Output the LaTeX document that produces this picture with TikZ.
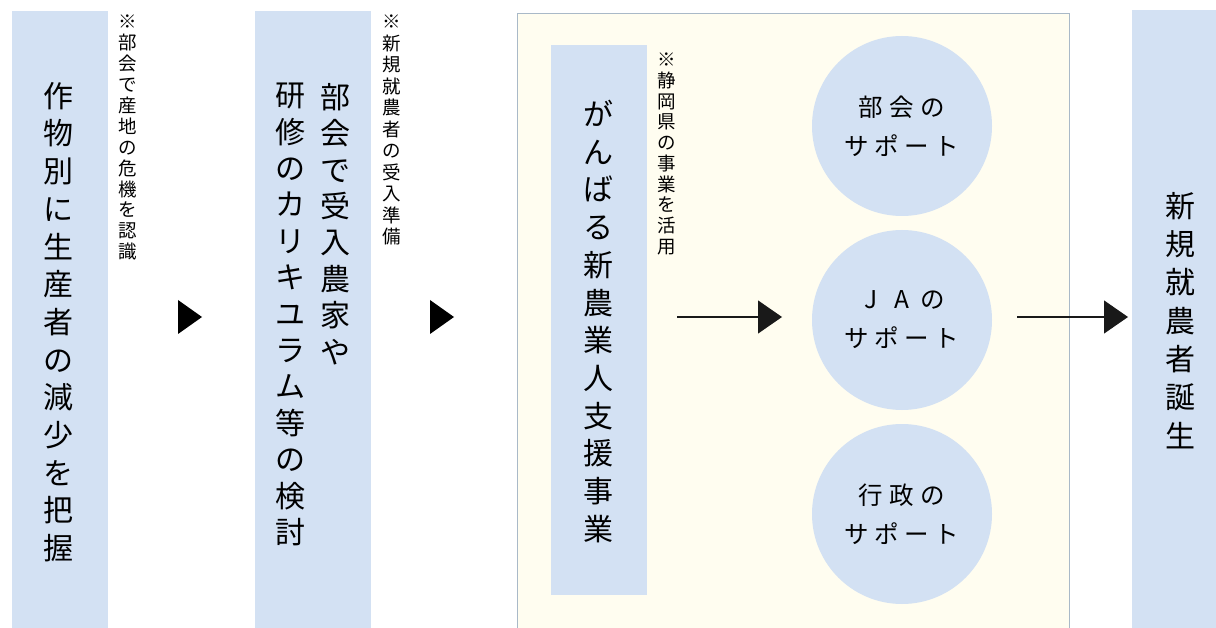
\documentclass[tikz,border=0pt]{standalone}
\usepackage{fontspec}
\setmainfont{Noto Sans CJK JP}
\usetikzlibrary{arrows.meta}
\definecolor{boxblue}{HTML}{D3E1F3}
\definecolor{cream}{HTML}{FFFDF0}
\definecolor{framec}{HTML}{A9B9C8}
\newcommand\ltrA[1]{\makebox[31pt]{#1}}
\newcommand\ltrB[1]{\makebox[30pt]{#1}}
\begin{document}
\begin{tikzpicture}[x=1pt,y=-1pt,
  bluebox/.style={fill=boxblue,draw=none,inner sep=0,anchor=north west},
  maintext/.style={font=\fontsize{30}{37.7}\selectfont,align=center,inner sep=0,anchor=north},
  notetext/.style={align=center,inner sep=0,anchor=north},
  support/.style={circle,fill=boxblue,draw=none,minimum size=180pt,inner sep=0,
    align=center,font=\fontsize{24.5}{39}\selectfont},
  conn/.style={line width=1.2pt,draw=black!90,-{Triangle[length=24pt,width=33pt]}},
  tri/.style={fill=black}
]
\useasboundingbox (0,0) rectangle (1216,628);
\fill[white] (0,0) rectangle (1216,628);

% boxes
\node[bluebox,minimum width=96pt,minimum height=617pt] (b1) at (12,11) {};
\node[bluebox,minimum width=116pt,minimum height=617pt] (b2) at (255,11) {};
\node[draw=framec,fill=cream,line width=0.8pt,inner sep=0,anchor=north west,
      minimum width=552pt,minimum height=625pt] (big) at (517,13) {};
\node[bluebox,minimum width=96pt,minimum height=550pt] (b3) at (551,45) {};
\node[bluebox,minimum width=90pt,minimum height=618pt] (b4) at (1132,10) {};

% box 1
\node[maintext] (t1) at (58,82) {作\\物\\別\\に\\生\\産\\者\\の\\減\\少\\を\\把\\握};
\node[notetext,font=\fontsize{18.5}{20.9}\selectfont] (n1) at (128,15) {※\\部\\会\\で\\産\\地\\の\\危\\機\\を\\認\\識};

% box 2
\node[maintext,font=\fontsize{30}{36.4}\selectfont] (t2a) at (335,83) {部\\会\\で\\受\\入\\農\\家\\や};
\node[maintext,font=\fontsize{30}{36.4}\selectfont] (t2b) at (290,83) {研\\修\\の\\カ\\リ\\キ\\ユ\\ラ\\ム\\等\\の\\検\\討};
\node[notetext,font=\fontsize{18.5}{21.5}\selectfont] (n2) at (392,15) {※\\新\\規\\就\\農\\者\\の\\受\\入\\準\\備};

% box 3
\node[maintext] (t3) at (598,100) {が\\ん\\ば\\る\\新\\農\\業\\人\\支\\援\\事\\業};
\node[notetext,font=\fontsize{18.5}{20.7}\selectfont] (n3) at (667,53) {※\\静\\岡\\県\\の\\事\\業\\を\\活\\用};

% circles
\node[support] (c1) at (902,126) {\ltrA{部}\ltrA{会}\ltrA{の}\\\ltrB{サ}\ltrB{ポ}\ltrB{ー}\ltrB{ト}};
\node[support] (c2) at (902,320) {\ltrA{J}\ltrA{A}\ltrA{の}\\\ltrB{サ}\ltrB{ポ}\ltrB{ー}\ltrB{ト}};
\node[support] (c3) at (902,514) {\ltrA{行}\ltrA{政}\ltrA{の}\\\ltrB{サ}\ltrB{ポ}\ltrB{ー}\ltrB{ト}};

% box 4
\node[maintext,font=\fontsize{30}{38.3}\selectfont] (t4) at (1180,192) {新\\規\\就\\農\\者\\誕\\生};

% standalone triangles
\fill[tri] (178,300) -- (202,317) -- (178,334) -- cycle;
\fill[tri] (430,300) -- (454,317) -- (430,334) -- cycle;

% arrows
\coordinate (a1s) at (677,317);
\coordinate (a1e) at (782,317);
\coordinate (a2s) at (1017,317);
\coordinate (a2e) at (1128,317);
\draw[conn] (a1s) -- (a1e);
\draw[conn] (a2s) -- (a2e);
\end{tikzpicture}
\end{document}
